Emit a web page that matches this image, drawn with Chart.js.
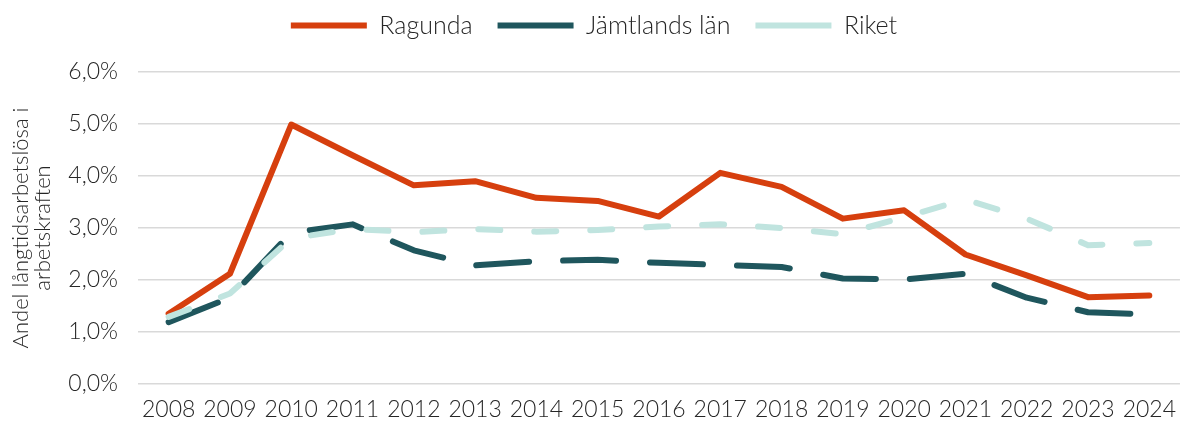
<!DOCTYPE html>
<html>
<head>
<meta charset="utf-8">
<script src="https://cdn.jsdelivr.net/npm/chart.js@4.4.1/dist/chart.umd.min.js"></script>
<style>
  html, body { margin: 0; padding: 0; background: #ffffff; }
  #wrap { width: 1188px; height: 423px; position: relative; }
</style>
</head>
<body>
<div id="wrap"><canvas id="c" width="1188" height="423"></canvas></div>
<script>
const years = ['2008','2009','2010','2011','2012','2013','2014','2015','2016','2017','2018','2019','2020','2021','2022','2023','2024'];
const ragunda = [1.35, 2.12, 4.99, 4.40, 3.82, 3.90, 3.58, 3.52, 3.22, 4.06, 3.79, 3.18, 3.34, 2.49, 2.09, 1.67, 1.70];
const jamtland = [1.19, 1.66, 2.91, 3.07, 2.57, 2.28, 2.36, 2.39, 2.33, 2.29, 2.25, 2.03, 2.01, 2.12, 1.66, 1.38, 1.34];
const riket = [1.29, 1.74, 2.80, 2.98, 2.92, 2.98, 2.93, 2.96, 3.03, 3.07, 3.00, 2.88, 3.21, 3.55, 3.18, 2.67, 2.71];
const seriesNames = ['Ragunda', 'Jämtlands län', 'Riket'];
const yTitle = ['Andel långtidsarbetslösa i', 'arbetskraften'];

const FONT = 'Lato, "Open Sans", sans-serif';
const TEXT = '#262626';

const legendSpace = {
  id: 'legendSpace',
  beforeLayout(chart) {
    const lg = chart.legend;
    if (lg && !lg.__patched) {
      const orig = lg.fit;
      lg.fit = function () { orig.call(this); this.height = 84; };
      lg.__patched = true;
    }
  }
};

new Chart(document.getElementById('c'), {
  type: 'line',
  data: {
    labels: years,
    datasets: [
      { label: seriesNames[0], data: ragunda, borderColor: '#D63F0E', backgroundColor: '#D63F0E',
        borderWidth: 6, borderCapStyle: 'round', order: 3 },
      { label: seriesNames[1], data: jamtland, borderColor: '#1F565D', backgroundColor: '#1F565D',
        borderWidth: 6, borderDash: [53, 34], borderCapStyle: 'round', order: 2 },
      { label: seriesNames[2], data: riket, borderColor: '#C0E4DF', backgroundColor: '#C0E4DF',
        borderWidth: 6, borderDash: [22, 34], borderCapStyle: 'round', order: 1 }
    ]
  },
  options: {
    responsive: false,
    animation: false,
    devicePixelRatio: 1,
    layout: { padding: { top: -12, left: 0, right: 0, bottom: 0 } },
    elements: { point: { radius: 0 }, line: { tension: 0, borderJoinStyle: 'round' } },
    plugins: {
      tooltip: { enabled: false },
      legend: {
        position: 'top',
        labels: {
          usePointStyle: true,
          pointStyle: 'line',
          pointStyleWidth: 76,
          boxHeight: 25,
          padding: 25,
          color: TEXT,
          font: { family: FONT, size: 25, weight: 300 },
          sort: (a, b) => a.datasetIndex - b.datasetIndex
        }
      }
    },
    scales: {
      x: {
        offset: true,
        grid: { display: false, drawTicks: false },
        border: { display: false },
        ticks: { color: TEXT, padding: 12, maxRotation: 0, autoSkip: false,
                 font: { family: FONT, size: 23, weight: 300 } },
        afterFit(s) { s.height = 39; }
      },
      y: {
        min: 0, max: 6,
        grid: { color: '#D9D9D9', lineWidth: 1.5, drawTicks: false },
        border: { display: false },
        ticks: { stepSize: 1, color: TEXT, padding: 20,
                 font: { family: FONT, size: 23, weight: 300 },
                 callback: v => v.toFixed(1).replace('.', ',') + '%' },
        title: { display: true, text: yTitle, color: TEXT, padding: { top: 10, bottom: 0 },
                 font: { family: FONT, size: 22, weight: 300, lineHeight: 1.0 } },
        afterFit(s) { s.width = 138; }
      }
    }
  },
  plugins: [legendSpace]
});
</script>
</body>
</html>
